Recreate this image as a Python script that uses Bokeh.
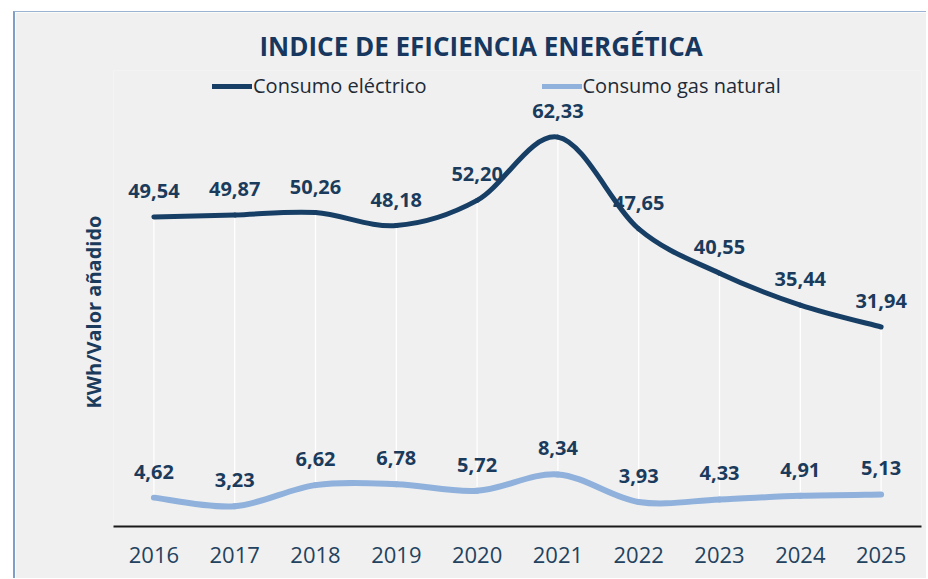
from bokeh.plotting import figure
from bokeh.models import Range1d, FixedTicker, Legend, LegendItem, Title
from bokeh.core.properties import value
from bokeh.embed import file_html
from bokeh.resources import INLINE

# ---- data ----
years = [2016, 2017, 2018, 2019, 2020, 2021, 2022, 2023, 2024, 2025]
year_labels = ["2016", "2017", "2018", "2019", "2020", "2021", "2022", "2023", "2024", "2025"]
electrico = [49.54, 49.87, 50.26, 48.18, 52.20, 62.33, 47.65, 40.55, 35.44, 31.94]
gas_natural = [4.62, 3.23, 6.62, 6.78, 5.72, 8.34, 3.93, 4.33, 4.91, 5.13]

title_text = "INDICE DE EFICIENCIA ENERGÉTICA"
y_label = "KWh/Valor añadido"
series_names = ["Consumo eléctrico", "Consumo gas natural"]

FONT = "Open Sans"
C_ELEC = "#173f66"
C_GAS = "#8fb1dc"
C_TEXT = "#1b3b5c"
BG = "#f0f0f0"
NAN = float("nan")


def smooth(xs, ys):
    """Excel-like smoothed line: Catmull-Rom converted to cubic Bezier pieces."""
    n = len(xs)
    out = dict(x0=[], y0=[], x1=[], y1=[], cx0=[], cy0=[], cx1=[], cy1=[])
    for i in range(n - 1):
        i0 = max(i - 1, 0)
        i3 = min(i + 2, n - 1)
        out["x0"].append(xs[i]); out["y0"].append(ys[i])
        out["x1"].append(xs[i + 1]); out["y1"].append(ys[i + 1])
        out["cx0"].append(xs[i] + (xs[i + 1] - xs[i0]) / 6)
        out["cy0"].append(ys[i] + (ys[i + 1] - ys[i0]) / 6)
        out["cx1"].append(xs[i + 1] - (xs[i3] - xs[i]) / 6)
        out["cy1"].append(ys[i + 1] - (ys[i3] - ys[i]) / 6)
    return out


p = figure(
    width=913, height=567,
    x_range=Range1d(2015.5, 2025.5), y_range=Range1d(0, 73.0),
    output_backend="svg", toolbar_location=None,
    min_border_left=98, min_border_right=7, min_border_top=58, min_border_bottom=53,
    background_fill_color=BG, border_fill_color=BG,
    title=title_text,
)
p.styles = {"margin-left": "13px", "margin-top": "11px",
            "border-left": "2px solid #7f9fc6", "border-top": "1px solid #9ab3d3"}
p.outline_line_color = None
p.grid.visible = False

# title
p.title.text_font = FONT
p.title.text_font_size = "26px"
p.title.text_font_style = "bold"
p.title.text_color = "#17375e"
p.title.align = "left"
p.title.offset = 146
p.title.standoff = 13

# axes
p.xaxis.ticker = FixedTicker(ticks=years)
p.xaxis.major_label_overrides = {y: s for y, s in zip(years, year_labels)}
p.xaxis.axis_line_color = "#1a1a1a"
p.xaxis.axis_line_width = 2
p.xaxis.major_tick_line_color = None
p.xaxis.minor_tick_line_color = None
p.xaxis.major_label_text_font = FONT
p.xaxis.major_label_text_font_size = "22px"
p.xaxis.major_label_text_color = "#22425f"
p.xaxis.major_label_standoff = 14
p.yaxis.visible = False

# y label as a vertical title on the left
ytitle = Title(text=y_label, align="left", offset=118, standoff=13,
               text_font=FONT, text_font_size="20px", text_font_style="bold",
               text_color=C_TEXT)
p.add_layout(ytitle, "left")

# drop lines (white)
p.segment(x0=years, y0=electrico, x1=years, y1=gas_natural, line_color="white", line_width=1.3)

# smoothed lines
p.bezier(source=smooth(years, gas_natural), x0="x0", y0="y0", x1="x1", y1="y1",
         cx0="cx0", cy0="cy0", cx1="cx1", cy1="cy1",
         line_color=C_GAS, line_width=6, line_cap="round")
p.bezier(source=smooth(years, electrico), x0="x0", y0="y0", x1="x1", y1="y1",
         cx0="cx0", cy0="cy0", cx1="cx1", cy1="cy1",
         line_color=C_ELEC, line_width=5, line_cap="round")

# legend swatches (NaN data: nothing drawn in the plot, only the line style in the legend)
l_elec = p.line(x=[NAN], y=[NAN], line_color=C_ELEC, line_width=5, line_cap="round")
l_gas = p.line(x=[NAN], y=[NAN], line_color=C_GAS, line_width=5, line_cap="round")

# data labels
fmt = lambda v: f"{v:.2f}".replace(".", ",")
for vals in (electrico, gas_natural):
    p.text(x=years, y=vals, text=[fmt(v) for v in vals], y_offset=-26,
           text_align="center", text_baseline="middle",
           text_font=value(FONT), text_font_size="20px", text_font_style="bold",
           text_color=C_TEXT)

legend = Legend(items=[LegendItem(label=series_names[0], renderers=[l_elec]),
                       LegendItem(label=series_names[1], renderers=[l_gas])],
                orientation="horizontal", location=(99, 427),
                background_fill_alpha=0, border_line_color=None,
                glyph_width=40, glyph_height=20, label_standoff=1, spacing=115,
                padding=0, margin=0,
                label_text_font=FONT, label_text_font_size="20px", label_text_color="#1e2a36")
p.add_layout(legend)

open("out.html", "w").write(file_html(p, INLINE))
